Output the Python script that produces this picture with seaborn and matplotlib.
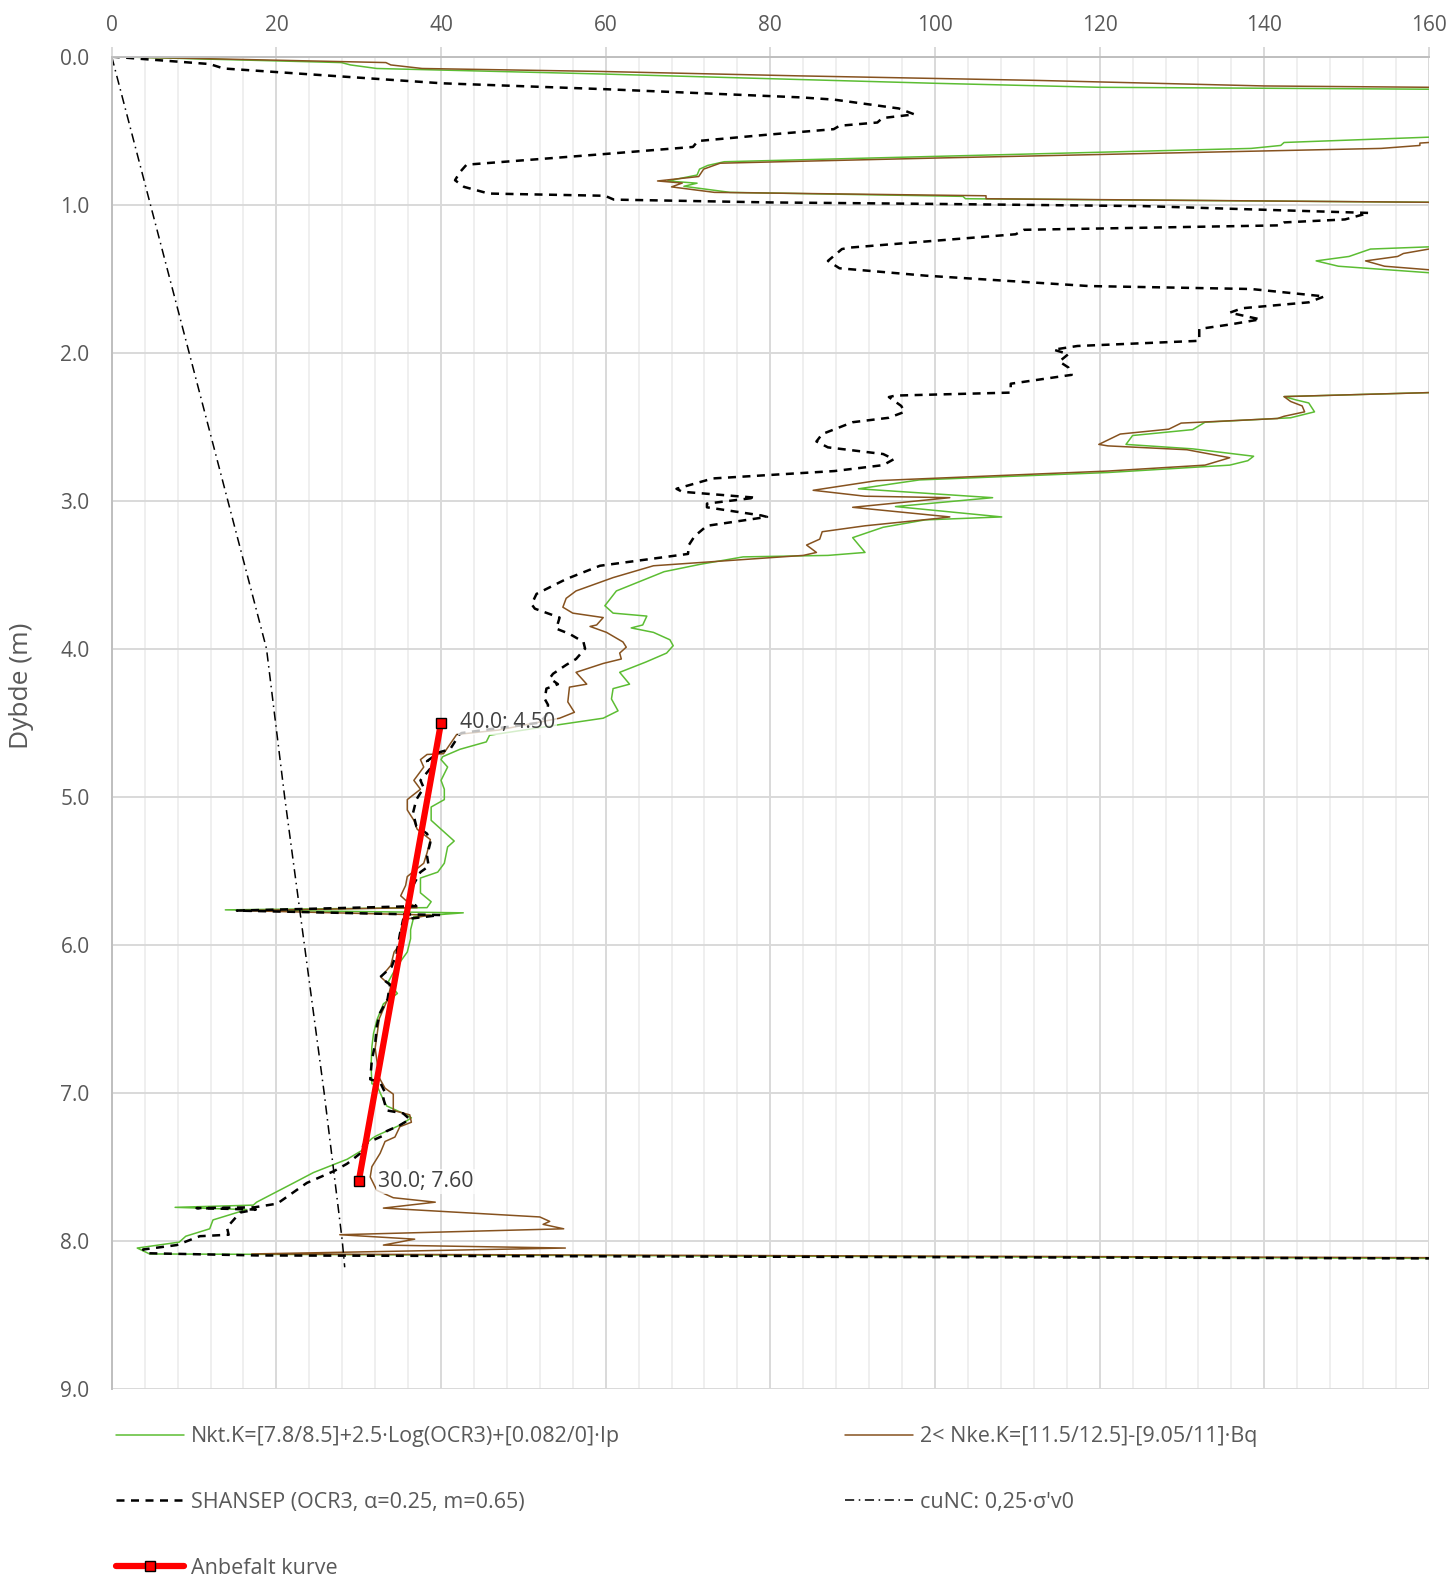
import matplotlib
matplotlib.use("Agg")
import matplotlib.pyplot as plt
import seaborn as sns
import pandas as pd
from matplotlib.lines import Line2D
from matplotlib.ticker import MultipleLocator, FormatStrFormatter

# ---------------- data (value, depth) ----------------
nkt_x = [0, 27.9, 29.0, 32.2, 59.4, 100, 120, 160, 250, 160, 142.4, 142.0, 138.4, 74.4, 72.4, 71.4, 71.1, 67.5, 71.1,
         69.5, 75.1, 103.4, 103.7, 160, 250, 160, 152.9, 150.3, 146.3, 149.0, 160, 250, 160, 142.4, 143.9, 145.4,
         146.1, 143.2, 132.8, 131.3, 124.0, 123.2, 131.3, 138.7, 138.0, 135.8, 121.0, 98.1, 90.7, 107.0, 95.2, 108.1,
         98.8, 93.7, 90.0, 91.5, 87.0, 76.7, 71.5, 67.1, 61.3, 59.9, 60.9, 65.0, 64.5, 63.1, 65.8, 67.8, 68.2, 67.4,
         64.9, 61.7, 62.9, 60.9, 60.7, 61.5, 59.7, 54.8, 45.9, 45.5, 42.3, 40.2, 40.0, 40.8, 40.0, 40.4, 40.4, 38.8,
         38.8, 41.6, 40.8, 40.4, 39.6, 37.5, 37.5, 38.8, 38.3, 13.8, 42.7, 36.7, 36.3, 36.3, 35.9, 34.6, 33.6, 34.7,
         33.0, 32.2, 31.8, 31.6, 31.5, 31.6, 32.2, 33.0, 33.4, 35.4, 36.4, 35.0, 33.4, 32.2, 31.6, 31.0, 30.4, 28.6,
         24.5, 22.1, 17.6, 17.2, 7.7, 16.4, 12.3, 11.9, 9.0, 8.2, 3.1, 4.6, 160]
nkt_d = [0, 0.04, 0.056, 0.08, 0.117, 0.18, 0.207, 0.22, 0.38, 0.544, 0.58, 0.60, 0.62, 0.71, 0.735, 0.76, 0.80, 0.84,
         0.855, 0.876, 0.917, 0.944, 0.96, 0.984, 1.1, 1.285, 1.30, 1.35, 1.38, 1.416, 1.46, 1.9, 2.27, 2.297, 2.32,
         2.34, 2.40, 2.44, 2.47, 2.52, 2.56, 2.62, 2.65, 2.70, 2.73, 2.76, 2.81, 2.86, 2.92, 2.98, 3.04, 3.11, 3.13,
         3.18, 3.25, 3.35, 3.37, 3.38, 3.43, 3.48, 3.61, 3.71, 3.76, 3.78, 3.84, 3.86, 3.89, 3.94, 3.98, 4.03, 4.09,
         4.16, 4.24, 4.27, 4.34, 4.42, 4.47, 4.51, 4.585, 4.63, 4.68, 4.73, 4.75, 4.80, 4.89, 4.95, 5.02, 5.07, 5.16,
         5.30, 5.34, 5.45, 5.51, 5.55, 5.65, 5.71, 5.75, 5.765, 5.785, 5.81, 5.90, 5.96, 6.05, 6.15, 6.25, 6.33, 6.40,
         6.51, 6.60, 6.69, 6.82, 6.94, 6.95, 7.05, 7.09, 7.14, 7.17, 7.22, 7.26, 7.29, 7.31, 7.34, 7.39, 7.45, 7.54,
         7.61, 7.74, 7.76, 7.775, 7.79, 7.86, 7.92, 7.97, 8.01, 8.05, 8.09, 8.12]

nke_x = [0, 33.3, 33.9, 37.7, 59.4, 83.6, 112, 140, 160, 250, 160, 158.9, 158.9, 154.2, 100.2, 73.9, 71.9, 71.3, 66.3,
         69.3, 68.0, 73.2, 106.2, 106.2, 160, 250, 160, 156.9, 156.2, 152.3, 154.6, 160, 250, 160, 142.4, 143.2, 144.6,
         144.9, 142.4, 141.6, 129.9, 128.4, 122.5, 119.9, 121.0, 130.6, 135.8, 132.8, 121.0, 92.9, 85.2, 91.5, 101.8,
         90.0, 101.8, 100.3, 91.5, 86.3, 86.0, 84.4, 85.6, 84.0, 65.8, 60.9, 56.4, 55.2, 54.8, 56.0, 59.7, 58.9, 58.1,
         60.1, 62.1, 62.5, 61.7, 61.9, 59.7, 56.4, 57.7, 55.6, 55.4, 56.2, 54.4, 47.0, 41.9, 40.3, 38.3, 37.5, 37.9,
         36.7, 37.5, 35.9, 35.9, 36.7, 37.1, 38.7, 38.3, 37.9, 35.9, 35.7, 35.1, 35.9, 37.1, 15.6, 38.7, 35.5, 35.1,
         35.5, 34.3, 33.9, 32.7, 33.9, 33.5, 32.5, 32.0, 32.5, 33.2, 34.2, 34.2, 36.2, 36.4, 35.0, 34.4, 33.2, 32.6,
         31.6, 31.4, 32.2, 34.2, 39.3, 33.0, 52.0, 53.2, 52.4, 54.9, 27.7, 36.8, 33.0, 55.1, 17.0, 160]
nke_d = [0, 0.04, 0.056, 0.08, 0.10, 0.13, 0.16, 0.198, 0.207, 0.4, 0.58, 0.584, 0.60, 0.62, 0.685, 0.72, 0.76, 0.81,
         0.84, 0.854, 0.88, 0.917, 0.94, 0.96, 0.984, 1.1, 1.30, 1.33, 1.35, 1.38, 1.416, 1.44, 1.9, 2.27, 2.297, 2.33,
         2.36, 2.40, 2.43, 2.445, 2.476, 2.517, 2.55, 2.62, 2.63, 2.656, 2.71, 2.76, 2.80, 2.865, 2.93, 2.97, 2.98,
         3.045, 3.11, 3.12, 3.17, 3.21, 3.26, 3.30, 3.35, 3.37, 3.44, 3.52, 3.61, 3.66, 3.72, 3.76, 3.79, 3.84, 3.85,
         3.89, 3.955, 3.99, 4.03, 4.07, 4.10, 4.16, 4.24, 4.26, 4.36, 4.43, 4.47, 4.55, 4.58, 4.71, 4.715, 4.75, 4.80,
         4.89, 4.95, 5.02, 5.09, 5.16, 5.22, 5.29, 5.38, 5.45, 5.54, 5.60, 5.67, 5.71, 5.75, 5.77, 5.80, 5.83, 5.90,
         5.96, 6.05, 6.14, 6.22, 6.28, 6.37, 6.50, 6.70, 6.90, 6.97, 7.01, 7.12, 7.15, 7.20, 7.23, 7.30, 7.33, 7.41,
         7.50, 7.57, 7.66, 7.71, 7.74, 7.78, 7.84, 7.87, 7.89, 7.92, 7.96, 7.99, 8.03, 8.05, 8.09, 8.115]

shansep_x = [0, 11.9, 13.6, 40.1, 60.0, 83.6, 87.7, 95.6, 97.5, 93.6, 93.0, 88.4, 87.7, 79.1, 71.2, 70.6, 59.4, 43.1,
             42.3, 41.7, 42.8, 45.8, 59.9, 61.0, 80.0, 100.0, 125.4, 152.7, 149.8, 142.4, 141.8, 110.8, 109.8, 89.7,
             88.7, 87.0, 88.4, 98.9, 118.7, 138.4, 147.3, 145.4, 137.3, 135.8, 139.5, 135.8, 132.1, 132.1, 117.3,
             114.4, 116.2, 115.1, 116.2, 116.6, 109.2, 109.2, 95.2, 94.4, 95.9, 96.3, 94.4, 90.0, 86.3, 85.6, 87.0,
             93.7, 95.0, 93.7, 87.8, 73.0, 68.6, 69.3, 78.2, 72.3, 72.3, 78.9, 79.6, 72.3, 70.8, 70.1, 70.0, 59.3,
             55.2, 51.6, 51.0, 51.4, 54.4, 54.0, 55.6, 57.3, 57.5, 56.4, 55.2, 53.6, 53.2, 54.2, 52.8, 52.6, 53.0,
             52.8, 52.0, 42.5, 42.1, 41.9, 41.1, 39.8, 38.3, 38.7, 37.5, 37.9, 37.0, 36.6, 37.0, 38.3, 38.7, 38.3,
             38.5, 37.5, 36.6, 36.2, 37.0, 15.2, 39.9, 35.4, 35.0, 34.6, 34.0, 32.6, 33.8, 33.5, 32.6, 32.2, 32.0,
             31.6, 31.4, 32.6, 33.2, 33.0, 33.4, 35.4, 36.2, 35.0, 33.4, 33.0, 31.8, 30.6, 30.2, 28.6, 27.0, 23.7,
             20.1, 17.3, 10.3, 17.5, 15.6, 14.0, 14.2, 10.7, 7.9, 3.8, 4.25, 17.6, 160]
shansep_d = [0, 0.05, 0.08, 0.18, 0.22, 0.275, 0.29, 0.35, 0.39, 0.415, 0.445, 0.467, 0.49, 0.53, 0.57, 0.61, 0.66,
             0.73, 0.78, 0.835, 0.88, 0.925, 0.94, 0.966, 0.985, 0.995, 1.01, 1.056, 1.10, 1.12, 1.14, 1.17, 1.20,
             1.29, 1.30, 1.38, 1.43, 1.48, 1.55, 1.57, 1.62, 1.66, 1.70, 1.73, 1.775, 1.81, 1.84, 1.92, 1.955, 1.98,
             2.01, 2.06, 2.10, 2.15, 2.21, 2.27, 2.29, 2.30, 2.36, 2.40, 2.44, 2.47, 2.55, 2.60, 2.64, 2.685, 2.72,
             2.76, 2.80, 2.85, 2.92, 2.94, 2.98, 3.02, 3.045, 3.10, 3.11, 3.17, 3.24, 3.30, 3.36, 3.44, 3.53, 3.63,
             3.70, 3.73, 3.79, 3.865, 3.90, 3.955, 4.00, 4.07, 4.11, 4.17, 4.20, 4.24, 4.27, 4.34, 4.38, 4.45, 4.50,
             4.57, 4.585, 4.61, 4.68, 4.70, 4.76, 4.81, 4.89, 4.94, 5.02, 5.11, 5.20, 5.25, 5.31, 5.40, 5.47, 5.51,
             5.60, 5.70, 5.74, 5.77, 5.80, 5.83, 5.93, 6.06, 6.15, 6.22, 6.27, 6.37, 6.46, 6.55, 6.67, 6.78, 6.91,
             6.93, 7.00, 7.04, 7.12, 7.14, 7.18, 7.22, 7.26, 7.29, 7.32, 7.35, 7.41, 7.48, 7.53, 7.61, 7.75, 7.775,
             7.78, 7.79, 7.81, 7.91, 7.96, 7.97, 8.03, 8.06, 8.085, 8.10, 8.12]

cunc_x = [0, 4.7, 9.4, 14.1, 18.8, 21.0, 23.4, 25.8, 28.0, 28.3]
cunc_d = [0, 1.0, 2.0, 3.0, 4.0, 5.0, 6.0, 7.0, 8.0, 8.18]

anbef_x = [40.0, 30.0]
anbef_d = [4.50, 7.60]

x_ticks = [0, 20, 40, 60, 80, 100, 120, 140, 160]
labels = ["Nkt.K=[7.8/8.5]+2.5\u00b7Log(OCR3)+[0.082/0]\u00b7Ip",
          "2< Nke.K=[11.5/12.5]-[9.05/11]\u00b7Bq",
          "SHANSEP (OCR3, \u03b1=0.25, m=0.65)",
          "cuNC: 0,25\u00b7\u03c3'v0",
          "Anbefalt kurve"]

# ---------------- styling ----------------
sns.set_theme(style="white")
plt.rcParams['font.family'] = ['Open Sans', 'DejaVu Sans']

GREEN = '#5cbd33'
BROWN = '#86521f'
GRID = '#d9d9d9'
MINOR = '#efefef'
TXT = '#595959'

fig = plt.figure(figsize=(14.51, 15.78), dpi=100)
ax = fig.add_axes([0.0770, 0.1200, 0.9078, 0.8441])

df_nkt = pd.DataFrame({'x': nkt_x, 'd': nkt_d})
df_nke = pd.DataFrame({'x': nke_x, 'd': nke_d})
df_sh = pd.DataFrame({'x': shansep_x, 'd': shansep_d})
df_cu = pd.DataFrame({'x': cunc_x, 'd': cunc_d})
df_an = pd.DataFrame({'x': anbef_x, 'd': anbef_d})

sns.lineplot(data=df_nkt, x='x', y='d', sort=False, estimator=None, color=GREEN, lw=1.1, ax=ax)
sns.lineplot(data=df_nke, x='x', y='d', sort=False, estimator=None, color=BROWN, lw=1.1, ax=ax)
sns.lineplot(data=df_sh, x='x', y='d', sort=False, estimator=None, color='black', lw=1.8, ax=ax)
ax.lines[-1].set_linestyle((0, (3.2, 2.6)))
sns.lineplot(data=df_cu, x='x', y='d', sort=False, estimator=None, color='black', lw=1.1, ax=ax)
ax.lines[-1].set_linestyle((0, (6, 3, 1, 3)))
sns.lineplot(data=df_an, x='x', y='d', sort=False, estimator=None, color='#ff0000', lw=4.5,
             marker='s', markersize=6.5, markerfacecolor='#ff0000', markeredgecolor='black',
             markeredgewidth=1.0, ax=ax)

for xv, dv in zip(anbef_x, anbef_d):
    ax.text(xv + 2.3, dv, f"{xv:.1f}; {dv:.2f}", ha='left', va='center', fontsize=15.3, color='#404040',
            bbox=dict(facecolor='white', edgecolor='none', alpha=0.75, pad=1.5), zorder=5)

ax.set_xlim(0, 160)
ax.set_ylim(9, 0)
ax.xaxis.tick_top()
ax.xaxis.set_label_position('top')
ax.set_xticks(x_ticks)
ax.xaxis.set_minor_locator(MultipleLocator(4))
ax.yaxis.set_major_locator(MultipleLocator(1.0))
ax.yaxis.set_major_formatter(FormatStrFormatter('%.1f'))
ax.grid(which='major', axis='both', color=GRID, lw=1.4)
ax.grid(which='minor', axis='x', color=MINOR, lw=1.4)
ax.set_axisbelow(True)
ax.tick_params(axis='x', which='major', top=True, length=7, width=1.4, color=GRID, labelsize=15,
               labelcolor=TXT, pad=8)
ax.tick_params(axis='x', which='minor', length=0)
ax.tick_params(axis='y', length=0, labelsize=15, labelcolor=TXT, pad=16)
for s in ['right', 'bottom']:
    ax.spines[s].set_visible(False)
for s in ['top', 'left']:
    ax.spines[s].set_color('#bfbfbf')
    ax.spines[s].set_linewidth(1.4)

ax.set_xlabel('')
ax.set_ylabel('Dybde (m)', fontsize=19, color=TXT)
ax.yaxis.set_label_coords(-0.059, 0.5275)

# legend
h_nkt = Line2D([], [], color=GREEN, lw=1.1)
h_nke = Line2D([], [], color=BROWN, lw=1.1)
h_sh = Line2D([], [], color='black', lw=1.8, linestyle=(0, (3.2, 2.6)))
h_cu = Line2D([], [], color='black', lw=1.1, linestyle=(0, (6, 3, 1, 3)))
h_an = Line2D([], [], color='#ff0000', lw=4.5, marker='s', markersize=6.5, markerfacecolor='#ff0000',
              markeredgecolor='black', markeredgewidth=1.0, solid_capstyle='round')
leg_kw = dict(loc='upper left', frameon=False, fontsize=15.5, handlelength=3.16, handletextpad=0.32,
              labelspacing=2.09, borderpad=0, borderaxespad=0, labelcolor=TXT)
leg1 = fig.legend(handles=[h_nkt, h_sh, h_an], labels=[labels[0], labels[2], labels[4]],
                  bbox_to_anchor=(0.0797, 0.0963), **leg_kw)
leg2 = fig.legend(handles=[h_nke, h_cu], labels=[labels[1], labels[3]],
                  bbox_to_anchor=(0.5825, 0.0963), **leg_kw)

fig.savefig('out.png', dpi=100)
